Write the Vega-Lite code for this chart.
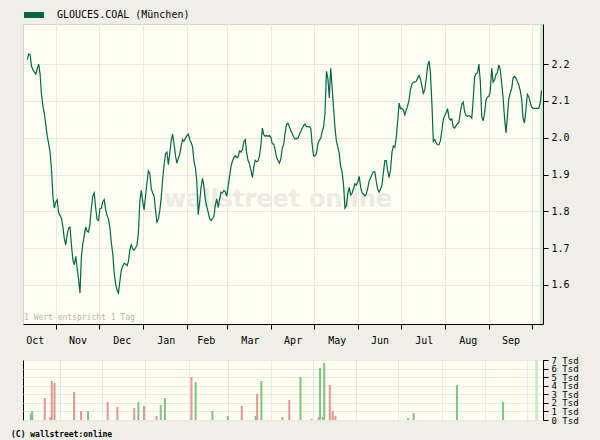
{
  "$schema": "https://vega.github.io/schema/vega-lite/v6.json",
  "background": "#efefe8",
  "padding": {"left": 10, "top": 1, "right": 22, "bottom": 3},
  "config": {
    "view": {"fill": "#fffff2", "stroke": "#d6d6d6"},
    "axis": {"labelFont": "DejaVu Sans Mono", "labelFontSize": 10, "labelColor": "#000", "domainColor": "#000", "tickColor": "#000", "gridColor": "#e8e8e8", "tickSize": 5}
  },
  "datasets": {
    "strip": [{"from": "2007-10-07", "to": "2007-10-09"}],
    "prices": [
      {"d":"2006-10-12","p":2.212},{"d":"2006-10-13","p":2.227},{"d":"2006-10-14","p":2.225},{"d":"2006-10-15","p":2.194},
      {"d":"2006-10-16","p":2.185},{"d":"2006-10-17","p":2.178},{"d":"2006-10-18","p":2.173},{"d":"2006-10-19","p":2.188},
      {"d":"2006-10-20","p":2.200},{"d":"2006-10-21","p":2.173},{"d":"2006-10-22","p":2.117},{"d":"2006-10-23","p":2.086},
      {"d":"2006-10-24","p":2.065},{"d":"2006-10-25","p":2.035},{"d":"2006-10-26","p":2.005},{"d":"2006-10-27","p":1.984},
      {"d":"2006-10-28","p":1.961},{"d":"2006-10-29","p":1.913},{"d":"2006-10-30","p":1.841},{"d":"2006-10-31","p":1.809},
      {"d":"2006-11-01","p":1.825},{"d":"2006-11-02","p":1.832},{"d":"2006-11-03","p":1.797},{"d":"2006-11-04","p":1.789},
      {"d":"2006-11-05","p":1.780},{"d":"2006-11-06","p":1.758},{"d":"2006-11-07","p":1.726},{"d":"2006-11-08","p":1.709},
      {"d":"2006-11-09","p":1.737},{"d":"2006-11-10","p":1.755},{"d":"2006-11-11","p":1.757},{"d":"2006-11-12","p":1.709},
      {"d":"2006-11-13","p":1.668},{"d":"2006-11-14","p":1.655},{"d":"2006-11-15","p":1.678},{"d":"2006-11-16","p":1.646},
      {"d":"2006-11-17","p":1.616},{"d":"2006-11-18","p":1.578},{"d":"2006-11-19","p":1.678},{"d":"2006-11-20","p":1.712},
      {"d":"2006-11-21","p":1.734},{"d":"2006-11-22","p":1.758},{"d":"2006-11-23","p":1.746},{"d":"2006-11-24","p":1.744},
      {"d":"2006-11-25","p":1.766},{"d":"2006-11-26","p":1.809},{"d":"2006-11-27","p":1.842},{"d":"2006-11-28","p":1.850},
      {"d":"2006-11-29","p":1.809},{"d":"2006-11-30","p":1.778},{"d":"2006-12-01","p":1.775},{"d":"2006-12-02","p":1.807},
      {"d":"2006-12-03","p":1.809},{"d":"2006-12-04","p":1.827},{"d":"2006-12-05","p":1.832},{"d":"2006-12-06","p":1.805},
      {"d":"2006-12-07","p":1.789},{"d":"2006-12-08","p":1.779},{"d":"2006-12-09","p":1.755},{"d":"2006-12-10","p":1.716},
      {"d":"2006-12-11","p":1.684},{"d":"2006-12-12","p":1.633},{"d":"2006-12-13","p":1.603},{"d":"2006-12-14","p":1.586},
      {"d":"2006-12-15","p":1.578},{"d":"2006-12-16","p":1.610},{"d":"2006-12-17","p":1.640},{"d":"2006-12-18","p":1.651},
      {"d":"2006-12-19","p":1.659},{"d":"2006-12-20","p":1.657},{"d":"2006-12-21","p":1.652},{"d":"2006-12-22","p":1.664},
      {"d":"2006-12-23","p":1.696},{"d":"2006-12-24","p":1.709},{"d":"2006-12-25","p":1.698},{"d":"2006-12-26","p":1.695},
      {"d":"2006-12-27","p":1.701},{"d":"2006-12-28","p":1.708},{"d":"2006-12-29","p":1.741},{"d":"2006-12-30","p":1.827},
      {"d":"2006-12-31","p":1.857},{"d":"2007-01-01","p":1.827},{"d":"2007-01-02","p":1.804},{"d":"2007-01-03","p":1.841},
      {"d":"2007-01-04","p":1.877},{"d":"2007-01-05","p":1.910},{"d":"2007-01-06","p":1.904},{"d":"2007-01-07","p":1.862},
      {"d":"2007-01-08","p":1.850},{"d":"2007-01-09","p":1.842},{"d":"2007-01-10","p":1.804},{"d":"2007-01-11","p":1.771},
      {"d":"2007-01-12","p":1.779},{"d":"2007-01-13","p":1.802},{"d":"2007-01-14","p":1.836},{"d":"2007-01-15","p":1.885},
      {"d":"2007-01-16","p":1.925},{"d":"2007-01-17","p":1.956},{"d":"2007-01-18","p":1.961},{"d":"2007-01-19","p":1.927},
      {"d":"2007-01-20","p":1.957},{"d":"2007-01-21","p":1.990},{"d":"2007-01-22","p":2.010},{"d":"2007-01-23","p":1.984},
      {"d":"2007-01-24","p":1.952},{"d":"2007-01-25","p":1.931},{"d":"2007-01-26","p":1.944},{"d":"2007-01-27","p":1.954},
      {"d":"2007-01-28","p":1.977},{"d":"2007-01-29","p":1.995},{"d":"2007-01-30","p":1.990},{"d":"2007-01-31","p":1.999},
      {"d":"2007-02-01","p":2.005},{"d":"2007-02-02","p":2.010},{"d":"2007-02-03","p":1.996},{"d":"2007-02-04","p":1.987},
      {"d":"2007-02-05","p":1.976},{"d":"2007-02-06","p":1.936},{"d":"2007-02-07","p":1.919},{"d":"2007-02-08","p":1.881},
      {"d":"2007-02-09","p":1.791},{"d":"2007-02-10","p":1.825},{"d":"2007-02-11","p":1.865},{"d":"2007-02-12","p":1.890},
      {"d":"2007-02-13","p":1.868},{"d":"2007-02-14","p":1.832},{"d":"2007-02-15","p":1.813},{"d":"2007-02-16","p":1.797},
      {"d":"2007-02-17","p":1.780},{"d":"2007-02-18","p":1.775},{"d":"2007-02-19","p":1.780},{"d":"2007-02-20","p":1.786},
      {"d":"2007-02-21","p":1.817},{"d":"2007-02-22","p":1.834},{"d":"2007-02-23","p":1.811},{"d":"2007-02-24","p":1.833},
      {"d":"2007-02-25","p":1.852},{"d":"2007-02-26","p":1.850},{"d":"2007-02-27","p":1.857},{"d":"2007-02-28","p":1.854},
      {"d":"2007-03-01","p":1.841},{"d":"2007-03-02","p":1.868},{"d":"2007-03-03","p":1.895},{"d":"2007-03-04","p":1.922},
      {"d":"2007-03-05","p":1.936},{"d":"2007-03-06","p":1.947},{"d":"2007-03-07","p":1.951},{"d":"2007-03-08","p":1.946},
      {"d":"2007-03-09","p":1.948},{"d":"2007-03-10","p":1.964},{"d":"2007-03-11","p":1.961},{"d":"2007-03-12","p":1.967},
      {"d":"2007-03-13","p":1.990},{"d":"2007-03-14","p":1.995},{"d":"2007-03-15","p":1.958},{"d":"2007-03-16","p":1.938},
      {"d":"2007-03-17","p":1.929},{"d":"2007-03-18","p":1.911},{"d":"2007-03-19","p":1.892},{"d":"2007-03-20","p":1.920},
      {"d":"2007-03-21","p":1.939},{"d":"2007-03-22","p":1.935},{"d":"2007-03-23","p":1.937},{"d":"2007-03-24","p":1.951},
      {"d":"2007-03-25","p":1.981},{"d":"2007-03-26","p":2.026},{"d":"2007-03-27","p":2.008},{"d":"2007-03-28","p":2.004},
      {"d":"2007-03-29","p":2.006},{"d":"2007-03-30","p":2.004},{"d":"2007-03-31","p":2.006},{"d":"2007-04-01","p":2.001},
      {"d":"2007-04-02","p":1.983},{"d":"2007-04-03","p":1.983},{"d":"2007-04-04","p":1.967},{"d":"2007-04-05","p":1.947},
      {"d":"2007-04-06","p":1.938},{"d":"2007-04-07","p":1.931},{"d":"2007-04-08","p":1.943},{"d":"2007-04-09","p":1.972},
      {"d":"2007-04-10","p":1.983},{"d":"2007-04-11","p":2.013},{"d":"2007-04-12","p":2.037},{"d":"2007-04-13","p":2.039},
      {"d":"2007-04-14","p":2.030},{"d":"2007-04-15","p":2.019},{"d":"2007-04-16","p":2.011},{"d":"2007-04-17","p":2.002},
      {"d":"2007-04-18","p":1.997},{"d":"2007-04-19","p":1.997},{"d":"2007-04-20","p":2.000},{"d":"2007-04-21","p":2.008},
      {"d":"2007-04-22","p":2.018},{"d":"2007-04-23","p":2.026},{"d":"2007-04-24","p":2.033},{"d":"2007-04-25","p":2.037},
      {"d":"2007-04-26","p":2.030},{"d":"2007-04-27","p":2.030},{"d":"2007-04-28","p":2.030},{"d":"2007-04-29","p":2.026},
      {"d":"2007-04-30","p":1.981},{"d":"2007-05-01","p":1.951},{"d":"2007-05-02","p":1.951},{"d":"2007-05-03","p":1.958},
      {"d":"2007-05-04","p":1.983},{"d":"2007-05-05","p":1.994},{"d":"2007-05-06","p":1.998},{"d":"2007-05-07","p":2.017},
      {"d":"2007-05-08","p":2.030},{"d":"2007-05-09","p":2.067},{"d":"2007-05-10","p":2.180},{"d":"2007-05-11","p":2.162},
      {"d":"2007-05-12","p":2.108},{"d":"2007-05-13","p":2.189},{"d":"2007-05-14","p":2.135},{"d":"2007-05-15","p":2.081},
      {"d":"2007-05-16","p":2.026},{"d":"2007-05-17","p":1.990},{"d":"2007-05-18","p":1.975},{"d":"2007-05-19","p":1.957},
      {"d":"2007-05-20","p":1.922},{"d":"2007-05-21","p":1.907},{"d":"2007-05-22","p":1.872},{"d":"2007-05-23","p":1.809},
      {"d":"2007-05-24","p":1.815},{"d":"2007-05-25","p":1.848},{"d":"2007-05-26","p":1.865},{"d":"2007-05-27","p":1.844},
      {"d":"2007-05-28","p":1.850},{"d":"2007-05-29","p":1.862},{"d":"2007-05-30","p":1.875},{"d":"2007-05-31","p":1.871},
      {"d":"2007-06-01","p":1.880},{"d":"2007-06-02","p":1.895},{"d":"2007-06-03","p":1.865},{"d":"2007-06-04","p":1.850},
      {"d":"2007-06-05","p":1.847},{"d":"2007-06-06","p":1.842},{"d":"2007-06-07","p":1.847},{"d":"2007-06-08","p":1.863},
      {"d":"2007-06-09","p":1.883},{"d":"2007-06-10","p":1.892},{"d":"2007-06-11","p":1.900},{"d":"2007-06-12","p":1.908},
      {"d":"2007-06-13","p":1.907},{"d":"2007-06-14","p":1.880},{"d":"2007-06-15","p":1.859},{"d":"2007-06-16","p":1.852},
      {"d":"2007-06-17","p":1.861},{"d":"2007-06-18","p":1.872},{"d":"2007-06-19","p":1.907},{"d":"2007-06-20","p":1.938},
      {"d":"2007-06-21","p":1.938},{"d":"2007-06-22","p":1.909},{"d":"2007-06-23","p":1.892},{"d":"2007-06-24","p":1.913},
      {"d":"2007-06-25","p":1.961},{"d":"2007-06-26","p":1.978},{"d":"2007-06-27","p":1.974},{"d":"2007-06-28","p":2.001},
      {"d":"2007-06-29","p":2.046},{"d":"2007-06-30","p":2.094},{"d":"2007-07-01","p":2.079},{"d":"2007-07-02","p":2.080},
      {"d":"2007-07-03","p":2.076},{"d":"2007-07-04","p":2.062},{"d":"2007-07-05","p":2.075},{"d":"2007-07-06","p":2.087},
      {"d":"2007-07-07","p":2.103},{"d":"2007-07-08","p":2.131},{"d":"2007-07-09","p":2.146},{"d":"2007-07-10","p":2.151},
      {"d":"2007-07-11","p":2.151},{"d":"2007-07-12","p":2.153},{"d":"2007-07-13","p":2.162},{"d":"2007-07-14","p":2.169},
      {"d":"2007-07-15","p":2.159},{"d":"2007-07-16","p":2.141},{"d":"2007-07-17","p":2.121},{"d":"2007-07-18","p":2.130},
      {"d":"2007-07-19","p":2.159},{"d":"2007-07-20","p":2.194},{"d":"2007-07-21","p":2.209},{"d":"2007-07-22","p":2.176},
      {"d":"2007-07-23","p":2.094},{"d":"2007-07-24","p":1.990},{"d":"2007-07-25","p":1.995},{"d":"2007-07-26","p":1.986},
      {"d":"2007-07-27","p":1.981},{"d":"2007-07-28","p":1.981},{"d":"2007-07-29","p":1.992},{"d":"2007-07-30","p":2.019},
      {"d":"2007-07-31","p":2.049},{"d":"2007-08-01","p":2.060},{"d":"2007-08-02","p":2.067},{"d":"2007-08-03","p":2.079},
      {"d":"2007-08-04","p":2.055},{"d":"2007-08-05","p":2.048},{"d":"2007-08-06","p":2.051},{"d":"2007-08-07","p":2.029},
      {"d":"2007-08-08","p":2.026},{"d":"2007-08-09","p":2.033},{"d":"2007-08-10","p":2.038},{"d":"2007-08-11","p":2.042},
      {"d":"2007-08-12","p":2.070},{"d":"2007-08-13","p":2.091},{"d":"2007-08-14","p":2.097},{"d":"2007-08-15","p":2.072},
      {"d":"2007-08-16","p":2.060},{"d":"2007-08-17","p":2.058},{"d":"2007-08-18","p":2.060},{"d":"2007-08-19","p":2.058},
      {"d":"2007-08-20","p":2.053},{"d":"2007-08-21","p":2.103},{"d":"2007-08-22","p":2.165},{"d":"2007-08-23","p":2.174},
      {"d":"2007-08-24","p":2.176},{"d":"2007-08-25","p":2.200},{"d":"2007-08-26","p":2.153},{"d":"2007-08-27","p":2.058},
      {"d":"2007-08-28","p":2.046},{"d":"2007-08-29","p":2.067},{"d":"2007-08-30","p":2.102},{"d":"2007-08-31","p":2.111},
      {"d":"2007-09-01","p":2.112},{"d":"2007-09-02","p":2.126},{"d":"2007-09-03","p":2.189},{"d":"2007-09-04","p":2.151},
      {"d":"2007-09-05","p":2.157},{"d":"2007-09-06","p":2.172},{"d":"2007-09-07","p":2.178},{"d":"2007-09-08","p":2.198},
      {"d":"2007-09-09","p":2.185},{"d":"2007-09-10","p":2.148},{"d":"2007-09-11","p":2.108},{"d":"2007-09-12","p":2.054},
      {"d":"2007-09-13","p":2.013},{"d":"2007-09-14","p":2.058},{"d":"2007-09-15","p":2.106},{"d":"2007-09-16","p":2.122},
      {"d":"2007-09-17","p":2.133},{"d":"2007-09-18","p":2.162},{"d":"2007-09-19","p":2.167},{"d":"2007-09-20","p":2.162},
      {"d":"2007-09-21","p":2.153},{"d":"2007-09-22","p":2.145},{"d":"2007-09-23","p":2.128},{"d":"2007-09-24","p":2.105},
      {"d":"2007-09-25","p":2.053},{"d":"2007-09-26","p":2.040},{"d":"2007-09-27","p":2.076},{"d":"2007-09-28","p":2.118},
      {"d":"2007-09-29","p":2.112},{"d":"2007-09-30","p":2.097},{"d":"2007-10-01","p":2.083},{"d":"2007-10-02","p":2.080},
      {"d":"2007-10-03","p":2.080},{"d":"2007-10-04","p":2.080},{"d":"2007-10-05","p":2.080},{"d":"2007-10-06","p":2.080},
      {"d":"2007-10-07","p":2.093},{"d":"2007-10-08","p":2.128}
    ],
    "volume": [
      {"d":"2006-10-11","v":780,"c":"up"},{"d":"2006-10-12","v":1050,"c":"up"},{"d":"2006-10-21","v":2570,"c":"down"},
      {"d":"2006-10-25","v":350,"c":"down"},{"d":"2006-10-26","v":4550,"c":"down"},{"d":"2006-10-28","v":4360,"c":"down"},
      {"d":"2006-11-11","v":3270,"c":"down"},{"d":"2006-11-16","v":1050,"c":"down"},{"d":"2006-11-21","v":1050,"c":"up"},
      {"d":"2006-12-05","v":2100,"c":"down"},{"d":"2006-12-12","v":1520,"c":"down"},{"d":"2006-12-24","v":1400,"c":"down"},
      {"d":"2006-12-27","v":2100,"c":"up"},{"d":"2006-12-31","v":1630,"c":"down"},{"d":"2007-01-09","v":470,"c":"down"},
      {"d":"2007-01-12","v":1750,"c":"up"},{"d":"2007-01-15","v":2570,"c":"up"},{"d":"2007-02-03","v":5020,"c":"down"},
      {"d":"2007-02-06","v":4440,"c":"up"},{"d":"2007-02-18","v":1050,"c":"up"},{"d":"2007-03-01","v":470,"c":"up"},
      {"d":"2007-03-11","v":1630,"c":"down"},{"d":"2007-03-21","v":470,"c":"up"},{"d":"2007-03-22","v":3030,"c":"down"},
      {"d":"2007-03-25","v":4550,"c":"up"},{"d":"2007-04-09","v":350,"c":"up"},{"d":"2007-04-14","v":2330,"c":"down"},
      {"d":"2007-04-22","v":5020,"c":"up"},{"d":"2007-04-30","v":100,"c":"down"},{"d":"2007-05-05","v":350,"c":"down"},
      {"d":"2007-05-06","v":6070,"c":"up"},{"d":"2007-05-08","v":350,"c":"up"},{"d":"2007-05-09","v":6650,"c":"up"},
      {"d":"2007-05-13","v":4090,"c":"down"},{"d":"2007-05-15","v":1050,"c":"down"},{"d":"2007-05-17","v":470,"c":"down"},
      {"d":"2007-07-08","v":230,"c":"up"},{"d":"2007-07-12","v":820,"c":"up"},{"d":"2007-08-12","v":4090,"c":"up"},
      {"d":"2007-09-14","v":2100,"c":"up"}
    ]
  },
  "vconcat": [
    {
      "width": 520,
      "height": 300,
      "layer": [
        {
          "data": {"name": "strip"},
          "mark": {"type": "rect", "color": "#cde8cd"},
          "encoding": {
            "x": {
              "field": "from", "type": "temporal", "title": null,
              "scale": {"type": "utc", "domain": [{"year": 2006, "month": 10, "date": 9, "utc": true}, {"year": 2007, "month": 10, "date": 9, "utc": true}]},
              "axis": {
                "values": [
                  {"year": 2006, "month": 11, "date": 1, "utc": true}, {"year": 2006, "month": 12, "date": 1, "utc": true},
                  {"year": 2007, "month": 1, "date": 1, "utc": true}, {"year": 2007, "month": 2, "date": 1, "utc": true},
                  {"year": 2007, "month": 3, "date": 1, "utc": true}, {"year": 2007, "month": 4, "date": 1, "utc": true},
                  {"year": 2007, "month": 5, "date": 1, "utc": true}, {"year": 2007, "month": 6, "date": 1, "utc": true},
                  {"year": 2007, "month": 7, "date": 1, "utc": true}, {"year": 2007, "month": 8, "date": 1, "utc": true},
                  {"year": 2007, "month": 9, "date": 1, "utc": true}, {"year": 2007, "month": 10, "date": 1, "utc": true}
                ],
                "labelExpr": "utcFormat(datum.value - 15 * 86400000, '%b')",
                "labelOffset": -21, "labelPadding": 6, "labelFlush": false, "labelOverlap": false, "labelBound": false,
                "grid": true
              }
            },
            "x2": {"field": "to"}
          }
        },
        {
          "data": {"values": [{}]},
          "mark": {"type": "text", "text": "wallstreet online", "font": "DejaVu Sans", "fontSize": 24, "fontWeight": "bold", "color": "#ebebe2"},
          "encoding": {
            "x": {"datum": {"year": 2007, "month": 4, "date": 6, "utc": true}, "type": "temporal"},
            "y": {"datum": 1.83, "type": "quantitative"}
          }
        },
        {
          "data": {"values": [{}]},
          "mark": {"type": "text", "text": "1 Wert entspricht 1 Tag", "font": "DejaVu Sans Mono", "fontSize": 8, "color": "#b4b4b4", "align": "left", "baseline": "bottom", "dx": 1, "dy": -2},
          "encoding": {
            "x": {"datum": {"year": 2006, "month": 10, "date": 9, "utc": true}, "type": "temporal"},
            "y": {"datum": 1.494, "type": "quantitative"}
          }
        },
        {
          "data": {"name": "prices"},
          "mark": {"type": "line", "strokeWidth": 1.2},
          "encoding": {
            "x": {"field": "d", "type": "temporal"},
            "y": {
              "field": "p", "type": "quantitative", "title": null,
              "scale": {"domain": [1.494, 2.309], "nice": false, "zero": false},
              "axis": {"orient": "right", "values": [1.6, 1.7, 1.8, 1.9, 2.0, 2.1, 2.2], "format": ".1f", "grid": true, "labelPadding": 3}
            },
            "color": {
              "datum": "GLOUCES.COAL (München)", "type": "nominal",
              "scale": {"range": ["#00664a"]},
              "legend": {
                "title": null, "orient": "none", "legendX": -2, "legendY": -22, "padding": 0,
                "symbolType": "M-1,0H1", "symbolSize": 400, "symbolStrokeWidth": 6,
                "labelFont": "DejaVu Sans Mono", "labelFontSize": 10, "labelColor": "#000", "labelOffset": 10,
                "encode": {"symbols": {"update": {"strokeWidth": {"value": 6}, "stroke": {"value": "#00664a"}}}}
              }
            }
          }
        }
      ]
    },
    {
      "width": 520,
      "height": 60,
      "view": {"stroke": "#000", "fill": "#fffff2"},
      "title": {"text": "(C) wallstreet:online", "orient": "bottom", "anchor": "start", "dx": -12, "offset": 6, "font": "DejaVu Sans Mono", "fontSize": 8, "fontWeight": "bold", "color": "#000"},
      "layer": [
        {
          "data": {"name": "strip"},
          "mark": {"type": "rect", "color": "#cde8cd"},
          "encoding": {
            "x": {
              "field": "from", "type": "temporal", "title": null,
              "scale": {"type": "utc", "domain": [{"year": 2006, "month": 10, "date": 9, "utc": true}, {"year": 2007, "month": 10, "date": 9, "utc": true}]},
              "axis": {
                "values": [
                  {"year": 2006, "month": 11, "date": 1, "utc": true}, {"year": 2006, "month": 12, "date": 1, "utc": true},
                  {"year": 2007, "month": 1, "date": 1, "utc": true}, {"year": 2007, "month": 2, "date": 1, "utc": true},
                  {"year": 2007, "month": 3, "date": 1, "utc": true}, {"year": 2007, "month": 4, "date": 1, "utc": true},
                  {"year": 2007, "month": 5, "date": 1, "utc": true}, {"year": 2007, "month": 6, "date": 1, "utc": true},
                  {"year": 2007, "month": 7, "date": 1, "utc": true}, {"year": 2007, "month": 8, "date": 1, "utc": true},
                  {"year": 2007, "month": 9, "date": 1, "utc": true}, {"year": 2007, "month": 10, "date": 1, "utc": true}
                ],
                "labels": false, "ticks": false, "domain": false, "grid": true
              }
            },
            "x2": {"field": "to"}
          }
        },
        {
          "data": {"name": "volume"},
          "mark": {"type": "bar", "width": 2},
          "encoding": {
            "x": {"field": "d", "type": "temporal"},
            "y": {
              "field": "v", "type": "quantitative", "title": null,
              "scale": {"domain": [0, 7000], "nice": false},
              "axis": {"orient": "right", "values": [0, 1000, 2000, 3000, 4000, 5000, 6000, 7000], "labelExpr": "datum.value / 1000 + ' Tsd'", "labelFontSize": 9, "labelPadding": 3, "labelOverlap": false, "labelBound": false, "grid": true}
            },
            "color": {"field": "c", "type": "nominal", "scale": {"domain": ["down", "up"], "range": ["#e39494", "#7fc47f"]}, "legend": null}
          }
        }
      ]
    }
  ],
  "spacing": 36,
  "bounds": "flush",
  "resolve": {"scale": {"color": "independent"}}
}
